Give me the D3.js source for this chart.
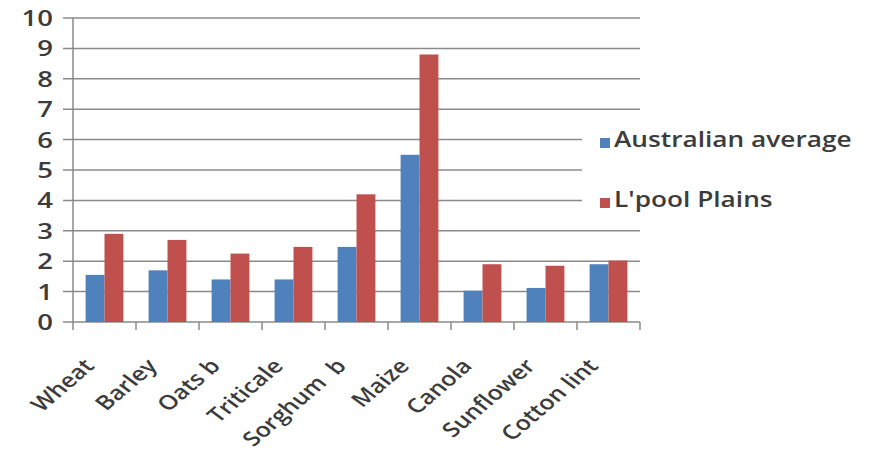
<!DOCTYPE html>
<html>
  <head>
    <meta charset="utf-8" />
    <title>Yield comparison</title>
    <style>
      body { margin: 0; background: #fff; }
      text { font-family: 'Open Sans', sans-serif; fill: #3c3c3c; font-weight: 600; }
      .grid line { stroke: #8a8a8a; stroke-width: 1.5px; }
    </style>
    <script src="https://d3js.org/d3.v7.min.js"></script>
  </head>
  <body>
    <svg width="872" height="454"></svg>
    <script>
      // data
      var crops = ['Wheat', 'Barley', 'Oats b', 'Triticale', 'Sorghum  b', 'Maize', 'Canola', 'Sunflower', 'Cotton lint']
      var australian = [1.55, 1.7, 1.4, 1.4, 2.47, 5.5, 1.03, 1.12, 1.9]
      var lpool = [2.9, 2.7, 2.25, 2.47, 4.2, 8.8, 1.9, 1.85, 2.02]
      var seriesNames = ['Australian average', "L'pool Plains"]
      var colors = ['#4f81bd', '#c0504d']
      var yTicks = [0, 1, 2, 3, 4, 5, 6, 7, 8, 9, 10]

      var svg = d3.select('svg')
      var sx = 1.25 // the picture is stretched sideways a bit

      var x0 = d3.scaleBand().domain(crops).range([73, 640])
      var x1 = d3.scaleBand().domain([0, 1])
        .range([x0.bandwidth() * 0.2, x0.bandwidth() * 0.8])
      var y = d3.scaleLinear().domain([0, 10]).range([322, 18])

      // gridlines
      svg.append('g').attr('class', 'grid')
        .selectAll('line').data(yTicks).enter().append('line')
        .attr('x1', 63).attr('x2', 640)
        .attr('y1', function (d) { return y(d) }).attr('y2', function (d) { return y(d) })

      // y axis line
      svg.append('line').attr('x1', 73).attr('x2', 73).attr('y1', y(10)).attr('y2', y(0))
        .style('stroke', '#8a8a8a').style('stroke-width', '1.5px')

      // y labels
      svg.selectAll('.ylab').data(yTicks).enter().append('text')
        .attr('class', 'ylab')
        .attr('transform', function (d) { return 'translate(53,' + y(d) + ') scale(' + sx + ',1)' })
        .attr('dy', '0.36em')
        .style('text-anchor', 'end')
        .style('font-size', '22px')
        .text(function (d) { return d })

      // bars
      var rows = crops.map(function (c, i) { return { crop: c, vals: [australian[i], lpool[i]] } })
      var groups = svg.selectAll('.grp').data(rows).enter().append('g')
        .attr('class', 'grp')
        .attr('transform', function (d) { return 'translate(' + x0(d.crop) + ',0)' })
      groups.selectAll('rect').data(function (d) { return d.vals }).enter().append('rect')
        .attr('x', function (d, i) { return x1(i) })
        .attr('width', x1.bandwidth())
        .attr('y', function (d) { return y(d) })
        .attr('height', function (d) { return y(0) - y(d) })
        .style('fill', function (d, i) { return colors[i] })

      // x axis ticks at band edges
      var edges = crops.map(function (c) { return x0(c) }).concat([x0.range()[1]])
      svg.selectAll('.xtick').data(edges).enter().append('line')
        .attr('x1', function (d) { return d }).attr('x2', function (d) { return d })
        .attr('y1', y(0)).attr('y2', y(0) + 8)
        .style('stroke', '#8a8a8a').style('stroke-width', '1.5px')

      // x labels
      svg.selectAll('.xlab').data(crops).enter().append('text')
        .attr('class', 'xlab')
        .attr('transform', function (d) {
          return 'translate(' + (x0(d) + x0.bandwidth() / 2 - 9) + ',367) scale(' + sx + ',1) rotate(-47)'
        })
        .style('text-anchor', 'end')
        .style('white-space', 'pre')
        .style('font-size', '20px')
        .text(function (d) { return d })

      // legend
      var legend = svg.append('g')
      legend.append('rect').attr('x', 582).attr('y', 118).attr('width', 290).attr('height', 95).style('fill', '#fff')
      var items = legend.selectAll('.item').data(seriesNames).enter().append('g')
        .attr('transform', function (d, i) { return 'translate(600,' + (138 + i * 60) + ')' })
      items.append('rect').attr('width', 10).attr('height', 10)
        .style('fill', function (d, i) { return colors[i] })
      items.append('text')
        .attr('transform', 'translate(14,9) scale(' + sx + ',1)')
        .style('font-size', '21px')
        .text(function (d) { return d })
    </script>
  </body>
</html>
